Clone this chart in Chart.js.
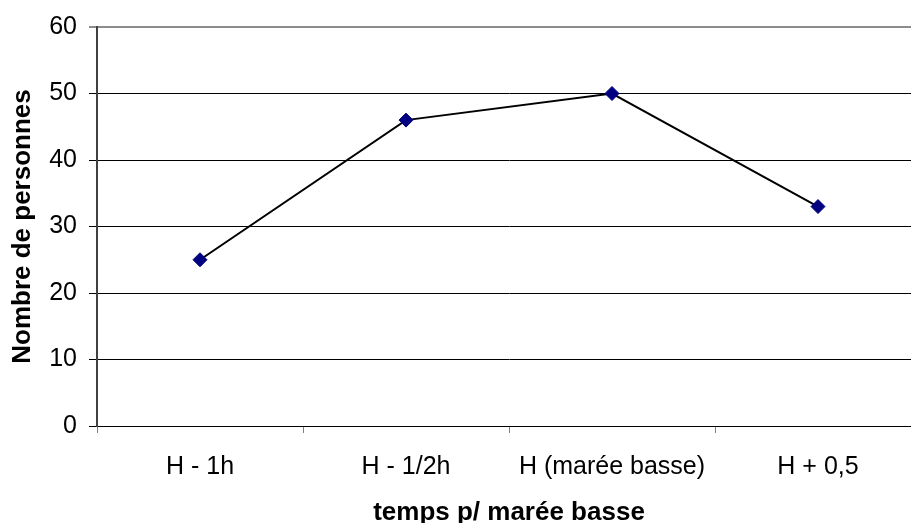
<!DOCTYPE html>
<html>
<head>
<meta charset="utf-8">
<script src="https://cdn.jsdelivr.net/npm/chart.js@4/dist/chart.umd.min.js"></script>
<style>
  html, body { margin: 0; padding: 0; background: #fff; overflow: hidden; }
  #wrap { width: 930px; height: 530px; }
</style>
</head>
<body>
<div id="wrap"><canvas id="chart"></canvas></div>
<script>
const categories = ["H - 1h", "H - 1/2h", "H (marée basse)", "H + 0,5"];
const personnes = [25, 46, 50, 33];
const yTitle = "Nombre de personnes";
const xTitle = "temps p/ marée basse";

const tickFont = { family: "Liberation Sans", size: 25 };
const titleFont = { family: "Liberation Sans", size: 26, weight: "bold" };

const ctx = document.getElementById("chart").getContext("2d");
new Chart(ctx, {
  type: "line",
  data: {
    labels: categories,
    datasets: [{
      data: personnes,
      borderColor: "#000000",
      borderWidth: 2,
      pointStyle: "rectRot",
      pointRadius: 7,
      pointBackgroundColor: "#000080",
      pointBorderColor: "#000080",
      pointBorderWidth: 1,
      tension: 0,
      fill: false
    }]
  },
  options: {
    responsive: true,
    maintainAspectRatio: false,
    animation: false,
    layout: { padding: { top: 13, right: 9, left: 0, bottom: 2 } },
    plugins: { legend: { display: false }, tooltip: { enabled: false } },
    scales: {
      x: {
        offset: true,
        afterFit: (s) => { s.height = 102; },
        grid: { offset: true, drawOnChartArea: false, tickLength: 7, color: "#808080" },
        border: { color: "#000000", width: 1 },
        ticks: { color: "#000", font: tickFont, padding: 19, maxRotation: 0 },
        title: { display: true, text: xTitle, color: "#000", font: titleFont, padding: { top: 4, bottom: 0 } }
      },
      y: {
        min: 0, max: 60,
        afterFit: (s) => { s.width = 97; },
        ticks: { stepSize: 10, color: "#000", font: tickFont, padding: 12 },
        grid: {
          tickLength: 8,
          color: (c) => c.tick && c.tick.value === 60 ? "#8c8c8c" : "#000000",
          lineWidth: (c) => c.tick && c.tick.value === 60 ? 2 : 1
        },
        border: { color: "#404040", width: 2 },
        title: { display: true, text: yTitle, color: "#000", font: titleFont, padding: { top: 7, bottom: 0 } }
      }
    }
  }
});
</script>
</body>
</html>
